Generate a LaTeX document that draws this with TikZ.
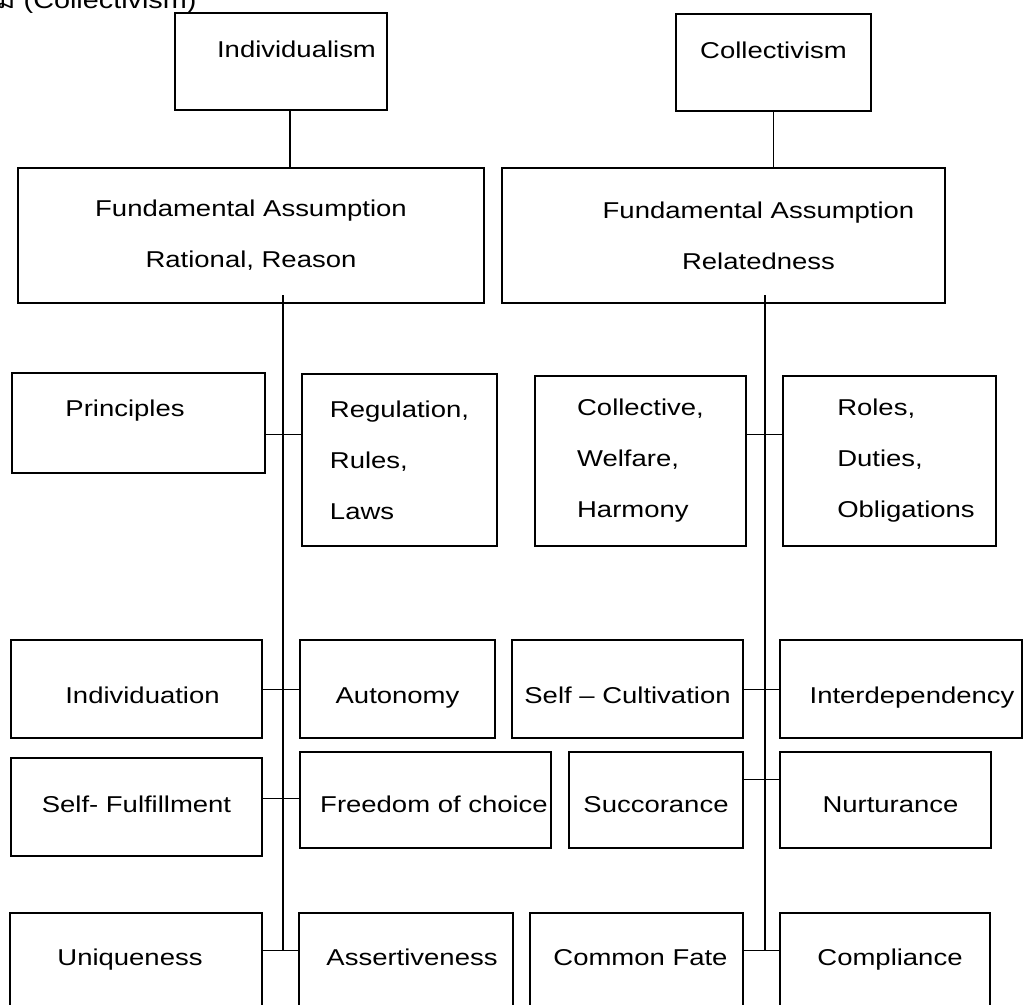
\documentclass[tikz,border=0pt]{standalone}
\usepackage{fontspec}
\setmainfont[FakeStretch=1.2]{Liberation Sans}
\newfontfamily\thaifont[Script=Thai,FakeStretch=1.2]{Loma}
\newcommand{\boxfont}{\fontsize{22.9}{51}\selectfont}

\begin{document}
\begin{tikzpicture}[x=1pt, y=-1pt,
                    box/.style={rectangle, draw, line width=2.2pt, inner sep=0pt, font=\boxfont, align=center},
                    high/.style={text height=4pt, text depth=13pt},
                    rowb/.style={text height=28pt, text depth=0pt},
                    rowc/.style={text height=24pt, text depth=0pt},
                    rowd/.style={text height=14pt, text depth=7pt},
                    trunk/.style={line width=1.4pt},
                    link/.style={line width=1pt}]
  \clip (0,0) rectangle (1024,1004);
  \node[anchor=base east, font=\fontsize{24}{28}\selectfont] (title) at (200,8) {{\thaifont ม} (Collectivism)};
  % top level
  \node[box, high, minimum width=212, minimum height=97] (indiv) at (281,61.5) {\hspace*{31pt}Individualism};
  \node[box, high, minimum width=195, minimum height=97] (coll) at (773.5,62.5) {Collectivism};
  \node[box, minimum width=466, minimum height=135] (fundL) at (251,235.5) {Fundamental Assumption\\Rational, Reason};
  \node[box, minimum width=443, minimum height=135] (fundR) at (723.5,235.5)
       {\hspace*{70pt}Fundamental Assumption\\\hspace*{70pt}Relatedness};
  % first row
  \node[box, text height=2pt, text depth=16pt, minimum width=253, minimum height=100] (princ) at (138.5,423) {Principles\hspace*{27pt}};
  \node[box, minimum width=195, minimum height=172, align=left] (regul) at (399.5,460) {Regulation,\\Rules,\\Laws};
  \node[box, minimum width=211, minimum height=170, align=left] (collw) at (640.5,461) {Collective,\\Welfare,\\Harmony};
  \node[box, minimum width=213, minimum height=170, align=left] (roles) at (889.5,461) {\hspace*{33pt}Roles,\\\hspace*{33pt}Duties,\\\hspace*{33pt}Obligations};
  % second row
  \node[box, rowb, minimum width=251, minimum height=98] (indv) at (136.5,689) {\hspace*{12pt}Individuation};
  \node[box, rowb, minimum width=195, minimum height=98] (auto) at (397.5,689) {Autonomy};
  \node[box, rowb, minimum width=231, minimum height=98] (cult) at (627.5,689) {Self -- Cultivation};
  \node[box, rowb, minimum width=242, minimum height=98] (interd) at (901,689) {\hspace*{22pt}Interdependency};
  % third row
  \node[box, text height=16pt, text depth=6pt, minimum width=251, minimum height=98] (fulf) at (136.5,807) {Self- Fulfillment};
  \node[box, rowc, minimum width=251, minimum height=96] (freed) at (425.5,800) {\hspace*{17pt}Freedom of choice};
  \node[box, rowc, minimum width=174, minimum height=96] (succ) at (656,800) {Succorance};
  \node[box, rowc, minimum width=211, minimum height=96] (nurt) at (885.5,800) {\hspace*{10pt}Nurturance};
  % fourth row
  \node[box, rowd, minimum width=252, minimum height=97] (uniq) at (136,961.5) {Uniqueness\hspace*{12pt}};
  \node[box, rowd, minimum width=214, minimum height=97] (assert) at (406,961.5) {\hspace*{12pt}Assertiveness};
  \node[box, rowd, minimum width=213, minimum height=97] (fate) at (636.5,961.5) {\hspace*{8pt}Common Fate};
  \node[box, rowd, minimum width=210, minimum height=97] (compl) at (885,961.5) {\hspace*{10pt}Compliance};

  \coordinate (topL) at (283,295);
  \coordinate (topR) at (765,295);
  \coordinate (rowA) at (0,434);
  \coordinate (rowCL) at (0,798);
  \coordinate (rowCR) at (0,779);
  \coordinate (rowD) at (0,950);

  \draw[trunk] ([xshift=9pt]indiv.south) -- ([xshift=9pt]indiv.south |- fundL.north);
  \draw[trunk] (coll.south) -- (coll.south |- fundR.north);
  \draw[trunk] (topL) -- (topL |- rowD);
  \draw[trunk] (topR) -- (topR |- rowD);
  \draw[link] (princ.east |- rowA) -- (regul.west |- rowA);
  \draw[link] (collw.east |- rowA) -- (roles.west |- rowA);
  \draw[link] (indv) -- (auto);
  \draw[link] (cult) -- (interd);
  \draw[link] (fulf.east |- rowCL) -- (freed.west |- rowCL);
  \draw[link] (succ.east |- rowCR) -- (nurt.west |- rowCR);
  \draw[link] (uniq.east |- rowD) -- (assert.west |- rowD);
  \draw[link] (fate.east |- rowD) -- (compl.west |- rowD);
\end{tikzpicture}
\end{document}
